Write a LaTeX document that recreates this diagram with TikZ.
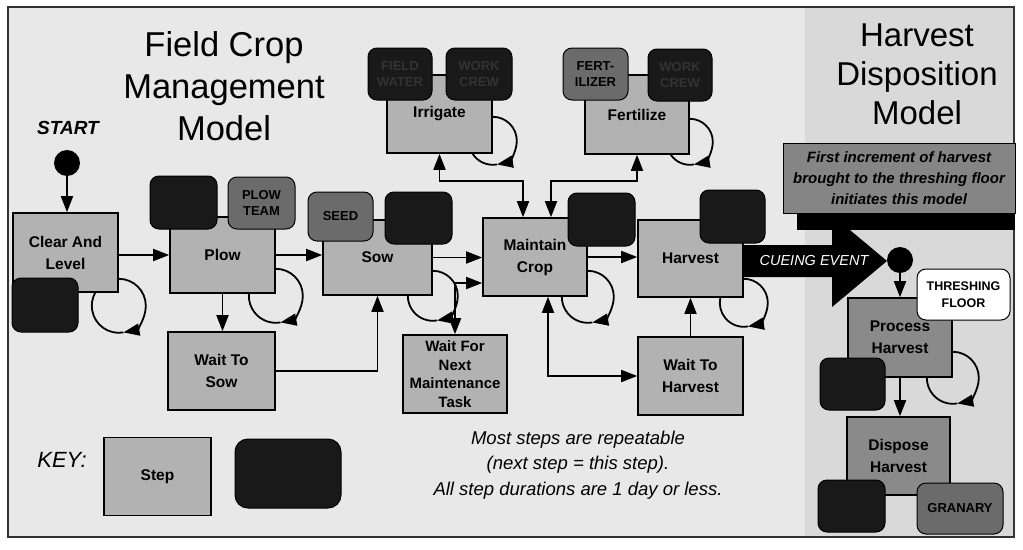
\documentclass[tikz,border=0pt]{standalone}
\usepackage{fontspec}
\setmainfont{Liberation Sans}
\usetikzlibrary{arrows.meta}

\begin{document}
\begin{tikzpicture}[x=1pt, y=-1pt,
  every node/.style={font=\fontsize{15.5}{22}\selectfont\bfseries, align=center, inner sep=0pt},
  stepbox/.style={draw=black, line width=1.6pt, fill=black!30, minimum width=105pt, minimum height=78pt},
  darkstep/.style={stepbox, fill=black!46},
  resbox/.style={draw=black, line width=1pt, fill=black!90, rounded corners=9pt, minimum width=66pt, minimum height=52pt, text=black!80, font=\fontsize{13}{16}\selectfont\bfseries},
  toolbox/.style={resbox, fill=black!58, text=black},
  conn/.style={line width=1.8pt, -{Triangle[length=16pt,width=12pt]}},
  biconn/.style={line width=1.8pt, {Triangle[length=16pt,width=12pt]}-{Triangle[length=16pt,width=12pt]}},
  loopline/.style={line width=1.8pt}]
  \useasboundingbox (0,0) rectangle (1023,549);
  % Background and frame
  \fill[white] (0,0) rectangle (1023,549);
  \fill[black!9] (8,7) rectangle (1014,537);
  \fill[black!15] (805,7) rectangle (1014,537);
  \draw[line width=1.2pt, black!80] (8,7) rectangle (1014,537);
  % Titles
  \node[font=\fontsize{34.5}{42}\selectfont] (fcmtitle) at (224,86) {Field Crop\\Management\\Model};
  \node[font=\fontsize{33}{39}\selectfont] (hdmtitle) at (917,74) {Harvest\\Disposition\\Model};
  \node[font=\fontsize{19}{22}\selectfont\bfseries\itshape] (starttext) at (68,128) {START};
  \node[circle, fill=black, minimum size=26pt] (startdot) at (67,163) {};
  % Steps of the field crop model
  \node[stepbox, minimum height=79pt] (clear) at (65.5,252.5) {Clear And\\Level};
  \node[stepbox, minimum height=76pt] (plow) at (222.5,255) {Plow};
  \node[stepbox, minimum width=107pt] (waitsow) at (221.5,371) {Wait To\\Sow};
  \node[stepbox, minimum width=109pt, minimum height=75pt] (sow) at (377.5,257.5) {Sow};
  \node[stepbox, minimum width=104pt] (maintain) at (535,257) {Maintain\\Crop};
  \node[stepbox] (irrigate) at (439.5,114) {Irrigate};
  \node[stepbox, minimum width=104pt, minimum height=79pt] (fertilize) at (637,114.5) {Fertilize};
  \node[stepbox, minimum width=104pt, font=\fontsize{15}{18.5}\selectfont\bfseries] (waitnext) at (455,374) {Wait For\\Next\\Maintenance\\Task};
  \node[stepbox, minimum height=77pt] (harvest) at (690.5,258.5) {Harvest};
  \node[stepbox] (waitharv) at (690.5,376) {Wait To\\Harvest};
  % Steps of the harvest disposition model
  \node[darkstep, minimum width=104pt, minimum height=79pt] (process) at (900,337.5) {Process\\Harvest};
  \node[darkstep, minimum width=103pt] (dispose) at (898.5,456) {Dispose\\Harvest};
  % Resources
  \node[resbox, minimum height=54pt] (clearres) at (45,305) {};
  \node[resbox, minimum width=67pt, minimum height=53pt] (plowres) at (183.5,202.5) {};
  \node[toolbox, minimum width=67pt] (plowteam) at (261.5,203) {PLOW\\TEAM};
  \node[toolbox, minimum width=65pt, minimum height=49pt] (seed) at (340.5,216.5) {SEED};
  \node[resbox, minimum width=67pt] (sowres) at (418.5,218) {};
  \node[resbox, minimum width=64pt] (irrwater) at (400,74) {FIELD\\WATER};
  \node[resbox] (irrcrew) at (479,74) {WORK\\CREW};
  \node[toolbox, minimum width=65pt] (fertilizer) at (595.5,74) {FERT-\\ILIZER};
  \node[resbox, minimum width=64pt] (fertcrew) at (680,75) {WORK\\CREW};
  \node[resbox, minimum width=67pt, minimum height=53pt] (maintres) at (601.5,219.5) {};
  \node[resbox, minimum width=65pt, minimum height=53pt] (harvres) at (732.5,216.5) {};
  \node[resbox, minimum width=65pt] (procres) at (852.5,384) {};
  \node[resbox, minimum width=67pt] (dispres) at (851.5,506) {};
  \node[toolbox, minimum width=86pt, minimum height=51pt] (granary) at (960,508.5) {GRANARY};
  \node[resbox, fill=white, text=black, minimum width=93pt, minimum height=51pt, font=\fontsize{12.5}{17}\selectfont\bfseries] (floor) at (963.5,294.5) {THRESHING\\FLOOR};
  % Connectors
  \draw[conn] (startdot.south) -- (startdot |- clear.north);
  \draw[conn] (clear.east |- plow.west) -- (plow.west);
  \draw[conn] (plow.east) -- (plow.east -| sow.west);
  \draw[conn] (sow.east) -- (sow.east -| maintain.west);
  \draw[conn] (maintain.east) -- (maintain.east -| harvest.west);
  \draw[conn] (plow.south) -- (plow.south |- waitsow.north);
  \draw[conn] (waitsow.east) -| (sow.south);
  \draw[biconn] (irrigate.south) -- ++(0,27) -| ([xshift=-12pt]maintain.north);
  \draw[biconn] (fertilize.south) -- ++(0,26) -| ([xshift=16pt]maintain.north);
  \draw[biconn] ([shift={(0,26)}]maintain.west) -| (waitnext.north);
  \draw[biconn] ([xshift=13pt]maintain.south) |- (waitharv.west);
  \draw[conn] (waitharv.north) -- (harvest.south);
  % Self loops (next step = this step)
  \foreach \n/\dy/\r in {clear/13/27, plow/2/27, sow/0/25, maintain/0/26, harvest/5/24, irrigate/-13/24, fertilize/-13/23, process/0/26} {
    \pgfmathsetmacro\e{180+asin(\dy/\r)}
    \coordinate (c) at ([shift={(0,\dy)}]\n.south east);
    \draw[loopline, -{Triangle[length=16pt,width=12pt]}] (c) ++(-90:\r) arc[start angle=-90, end angle=80, radius=\r];
    \draw[loopline] (c) ++(80:\r) arc[start angle=80, end angle=\e, radius=\r];
  }
  % Cueing event
  \fill[black] (797,152) rectangle (1015,230);
  \node[draw=black, line width=0.8pt, fill=black!48, minimum width=232pt, minimum height=70pt, font=\fontsize{15}{21}\selectfont\bfseries\itshape] (banner) at (899,178) {First increment of harvest\\brought to the threshing floor\\initiates this model};
  \fill[black] (743,245) -- (832,245) -- (832,215) -- (887,261) -- (832,307) -- (832,277) -- (743,277) -- cycle;
  \node[font=\fontsize{14.5}{17}\selectfont\itshape, text=white] (cue) at (814,261) {CUEING EVENT};
  \node[circle, fill=black, minimum size=26pt] (hdmdot) at (900,260) {};
  \draw[conn] (hdmdot.south) -- (hdmdot |- process.north);
  \draw[conn] (process.south) -- (process.south |- dispose.north);
  % Key and notes
  \node[font=\fontsize{22}{24}\selectfont\itshape] (keytext) at (62,460) {KEY:};
  \node[stepbox, minimum width=107pt] (keystep) at (157.5,476.5) {Step};
  \node[resbox, minimum width=106pt, minimum height=69pt, rounded corners=13pt] (keyres) at (288,473.5) {};
  \node[font=\fontsize{18.5}{25.5}\selectfont\itshape] (note) at (578,465) {Most steps are repeatable\\(next step = this step).\\All step durations are 1 day or less.};
\end{tikzpicture}
\end{document}
